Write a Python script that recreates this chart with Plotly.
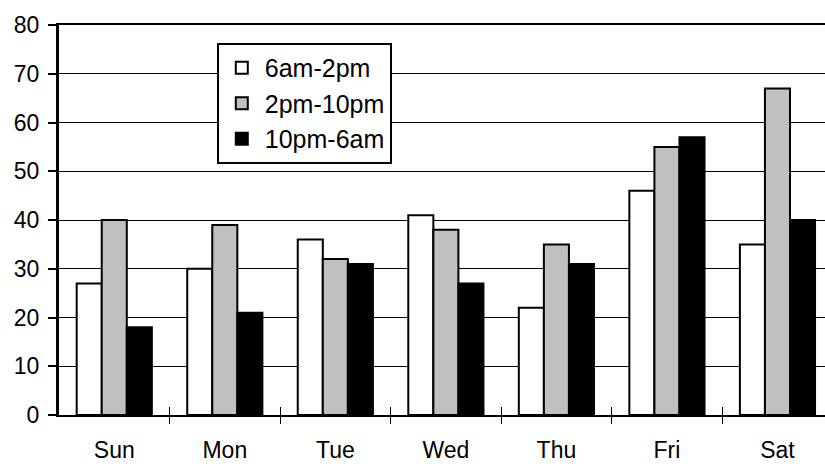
import plotly.graph_objects as go

days = ["Sun", "Mon", "Tue", "Wed", "Thu", "Fri", "Sat"]
shift_a = [27, 30, 36, 41, 22, 46, 35]   # 6am-2pm
shift_b = [40, 39, 32, 38, 35, 55, 67]   # 2pm-10pm
shift_c = [18, 21, 31, 27, 31, 57, 40]   # 10pm-6am
names = ["6am-2pm", "2pm-10pm", "10pm-6am"]
colors = ["#ffffff", "#c0c0c0", "#000000"]
y_ticks = [0, 10, 20, 30, 40, 50, 60, 70, 80]
boundaries = [0.5, 1.5, 2.5, 3.5, 4.5, 5.5]

FONT = "Liberation Sans, Arial, sans-serif"
FS = 23
XR = [-0.5, 6.43]

fig = go.Figure()
for vals, name, col in zip([shift_a, shift_b, shift_c], names, colors):
    fig.add_trace(go.Bar(x=list(range(len(days))), y=vals, name=name,
                         marker=dict(color=col, line=dict(color="black", width=2))))

# invisible helper traces so the boundary-tick axes are drawn
for ax in ["x2", "x3"]:
    fig.add_trace(go.Scatter(x=[0], y=[0], xaxis=ax, showlegend=False, mode="markers",
                             marker=dict(opacity=0), hoverinfo="skip"))

tick_axis = dict(type="linear", overlaying="x", range=XR, side="bottom", anchor="y",
                 tickvals=boundaries, ticklen=8, tickcolor="black", tickwidth=1,
                 showticklabels=False, showgrid=False, showline=False,
                 zeroline=False, automargin=False)

fig.update_layout(
    width=825, height=464,
    margin=dict(l=59, r=0, t=25, b=49),
    paper_bgcolor="white", plot_bgcolor="white",
    font=dict(family=FONT, size=FS, color="black"),
    barmode="group", bargap=0.32, bargroupgap=0,
    showlegend=True,
    legend=dict(x=0.206, y=0.954, xanchor="left", yanchor="top",
                bgcolor="white", bordercolor="black", borderwidth=2,
                font=dict(family=FONT, size=25, color="black"),
                tracegroupgap=0, itemwidth=36),
    xaxis=dict(type="linear", range=XR, showline=True, linecolor="black",
               linewidth=2, mirror=True, ticks="", tickvals=list(range(len(days))),
               ticktext=days, showgrid=False, automargin=False,
               tickfont=dict(size=FS), zeroline=False, ticklabelstandoff=13),
    xaxis2=dict(tick_axis, ticks="outside"),
    xaxis3=dict(tick_axis, ticks="inside"),
    yaxis=dict(range=[0, 80], tickvals=y_ticks, showline=True, linecolor="black",
               linewidth=3, ticks="outside", ticklen=8, tickwidth=2, tickcolor="black",
               showgrid=True, gridcolor="black", gridwidth=1, zeroline=False,
               automargin=False, tickfont=dict(size=FS), ticklabelstandoff=4),
)

fig.write_html("out.html", config={"displayModeBar": False},
               post_script="document.body.style.margin='0';")
